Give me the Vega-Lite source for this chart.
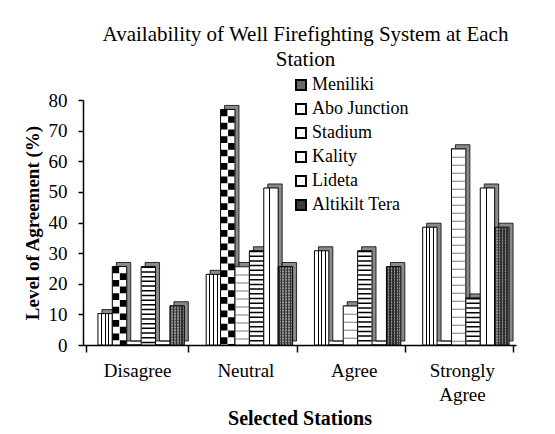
{
  "$schema": "https://vega.github.io/schema/vega-lite/v6.json",
  "width": 433,
  "height": 245,
  "autosize": {"type": "none"},
  "padding": {"left": 83, "top": 100, "right": 39, "bottom": 89},
  "background": "white",
  "config": {"view": {"stroke": null}, "font": "Liberation Serif"},
  "title": {
    "text": ["Availability of Well Firefighting System at Each", "Station"],
    "font": "Liberation Serif",
    "fontSize": 21,
    "fontWeight": "normal",
    "color": "black",
    "anchor": "middle",
    "frame": "group",
    "lineHeight": 25,
    "offset": 6,
    "dx": 6
  },
  "data": {
    "values": [
      {"category": "Disagree", "station": "Meniliki", "value": 10.26},
      {"category": "Disagree", "station": "Abo Junction", "value": 25.64},
      {"category": "Disagree", "station": "Stadium", "value": 0},
      {"category": "Disagree", "station": "Kality", "value": 25.64},
      {"category": "Disagree", "station": "Lideta", "value": 0},
      {"category": "Disagree", "station": "Altikilt Tera", "value": 12.82},
      {"category": "Neutral", "station": "Meniliki", "value": 23.08},
      {"category": "Neutral", "station": "Abo Junction", "value": 76.92},
      {"category": "Neutral", "station": "Stadium", "value": 25.64},
      {"category": "Neutral", "station": "Kality", "value": 30.77},
      {"category": "Neutral", "station": "Lideta", "value": 51.28},
      {"category": "Neutral", "station": "Altikilt Tera", "value": 25.64},
      {"category": "Agree", "station": "Meniliki", "value": 30.77},
      {"category": "Agree", "station": "Abo Junction", "value": 0},
      {"category": "Agree", "station": "Stadium", "value": 12.82},
      {"category": "Agree", "station": "Kality", "value": 30.77},
      {"category": "Agree", "station": "Lideta", "value": 0},
      {"category": "Agree", "station": "Altikilt Tera", "value": 25.64},
      {"category": "Strongly Agree", "station": "Meniliki", "value": 38.46},
      {"category": "Strongly Agree", "station": "Abo Junction", "value": 0},
      {"category": "Strongly Agree", "station": "Stadium", "value": 64.1},
      {"category": "Strongly Agree", "station": "Kality", "value": 15.38},
      {"category": "Strongly Agree", "station": "Lideta", "value": 51.28},
      {"category": "Strongly Agree", "station": "Altikilt Tera", "value": 38.46}
    ]
  },
  "resolve": {"scale": {"xOffset": "independent"}},
  "encoding": {
    "x": {
      "field": "category",
      "type": "nominal",
      "sort": ["Disagree", "Neutral", "Agree", "Strongly Agree"],
      "scale": {"paddingInner": 0.054, "paddingOuter": 0.027},
      "axis": {
        "title": "Selected Stations",
        "titleFont": "Liberation Serif",
        "titleFontSize": 20,
        "titleFontWeight": "bold",
        "titleColor": "black",
        "titlePadding": 4,
        "labelFont": "Liberation Serif",
        "labelFontSize": 19,
        "labelColor": "black",
        "labelAngle": 0,
        "labelPadding": 9,
        "labelLineHeight": 24,
        "labelExpr": "datum.label == 'Strongly Agree' ? ['Strongly', 'Agree'] : datum.label",
        "tickBand": "extent",
        "tickSize": 7,
        "tickColor": "black",
        "tickWidth": 1.5,
        "domainColor": "black",
        "domainWidth": 1.5
      }
    },
    "y": {
      "field": "value",
      "type": "quantitative",
      "scale": {"domain": [0, 80]},
      "axis": {
        "title": "Level of Agreement (%)",
        "titleFont": "Liberation Serif",
        "titleFontSize": 19,
        "titleFontWeight": "bold",
        "titleColor": "black",
        "titlePadding": 6,
        "values": [0, 10, 20, 30, 40, 50, 60, 70, 80],
        "labelFont": "Liberation Serif",
        "labelFontSize": 19,
        "labelColor": "black",
        "labelPadding": 11,
        "tickSize": 5,
        "tickColor": "black",
        "tickWidth": 1.5,
        "domainColor": "black",
        "domainWidth": 1.5,
        "grid": false
      }
    }
  },
  "layer": [
    {
      "mark": {"type": "bar", "fill": "#8a8a8a", "stroke": "black", "strokeWidth": 0.8, "yOffset": -4},
      "encoding": {
        "xOffset": {
          "field": "station", "type": "nominal",
          "scale": {"domain": ["Meniliki", "Abo Junction", "Stadium", "Kality", "Lideta", "Altikilt Tera"], "paddingInner": 0, "paddingOuter": 0.5556, "align": 1}
        }
      }
    },
    {
      "mark": {"type": "bar", "stroke": "black", "strokeWidth": 1},
      "encoding": {
        "xOffset": {
          "field": "station", "type": "nominal",
          "scale": {"domain": ["Meniliki", "Abo Junction", "Stadium", "Kality", "Lideta", "Altikilt Tera"], "paddingInner": 0, "paddingOuter": 0.5556, "align": 0.75}
        },
        "fill": {
          "field": "station",
          "type": "nominal",
          "scale": {
            "domain": ["Meniliki", "Abo Junction", "Stadium", "Kality", "Lideta", "Altikilt Tera"],
            "range": ["#6a6a6a", "#ffffff", "#ffffff", "#ffffff", "#ffffff", "#3a3a3a"]
          },
          "legend": {
            "orient": "none",
            "legendX": 209,
            "legendY": -24,
            "title": null,
            "symbolType": "square",
            "symbolSize": 100,
            "symbolStrokeColor": "black",
            "symbolStrokeWidth": 2,
            "labelFont": "Liberation Serif",
            "labelFontSize": 18,
            "labelColor": "black",
            "labelOffset": 2,
            "rowPadding": 6,
            "labelLimit": 300
          },
          "condition": [
            {
              "test": "datum.station === 'Meniliki'",
              "value": {
                "gradient": "linear", "x1": 0, "y1": 0, "x2": 1, "y2": 0,
                "stops": [
                  {"offset": 0, "color": "white"}, {"offset": 0.22, "color": "white"},
                  {"offset": 0.22, "color": "black"}, {"offset": 0.29, "color": "black"},
                  {"offset": 0.29, "color": "white"}, {"offset": 0.47, "color": "white"},
                  {"offset": 0.47, "color": "black"}, {"offset": 0.54, "color": "black"},
                  {"offset": 0.54, "color": "white"}, {"offset": 0.72, "color": "white"},
                  {"offset": 0.72, "color": "black"}, {"offset": 0.79, "color": "black"},
                  {"offset": 0.79, "color": "white"}, {"offset": 1, "color": "white"}
                ]
              }
            },
            {
              "test": "datum.station === 'Lideta'",
              "value": {
                "gradient": "linear", "x1": 0, "y1": 0, "x2": 1, "y2": 0,
                "stops": [
                  {"offset": 0, "color": "white"}, {"offset": 0.38, "color": "white"},
                  {"offset": 0.38, "color": "black"}, {"offset": 0.45, "color": "black"},
                  {"offset": 0.45, "color": "white"}, {"offset": 1, "color": "white"}
                ]
              }
            },
            {
              "test": "datum.station === 'Altikilt Tera'",
              "value": {
                "gradient": "linear", "x1": 0, "y1": 0, "x2": 1, "y2": 0,
                "stops": [
                  {"offset": 0, "color": "#303030"}, {"offset": 0.1, "color": "#303030"},
                  {"offset": 0.1, "color": "#9a9a9a"}, {"offset": 0.2, "color": "#9a9a9a"},
                  {"offset": 0.2, "color": "#303030"}, {"offset": 0.3, "color": "#303030"},
                  {"offset": 0.3, "color": "#9a9a9a"}, {"offset": 0.4, "color": "#9a9a9a"},
                  {"offset": 0.4, "color": "#303030"}, {"offset": 0.5, "color": "#303030"},
                  {"offset": 0.5, "color": "#9a9a9a"}, {"offset": 0.6, "color": "#9a9a9a"},
                  {"offset": 0.6, "color": "#303030"}, {"offset": 0.7, "color": "#303030"},
                  {"offset": 0.7, "color": "#9a9a9a"}, {"offset": 0.8, "color": "#9a9a9a"},
                  {"offset": 0.8, "color": "#303030"}, {"offset": 0.9, "color": "#303030"},
                  {"offset": 0.9, "color": "#9a9a9a"}, {"offset": 1, "color": "#9a9a9a"}
                ]
              }
            }
          ]
        }
      }
    },
    {
      "transform": [{"filter": "datum.station === 'Kality' && datum.value > 0"}],
      "mark": {"type": "rule", "stroke": "black", "strokeWidth": 13.4, "strokeDash": [1.5, 3.2], "strokeCap": "butt"},
      "encoding": {
        "xOffset": {
          "field": "station", "type": "nominal",
          "scale": {"domain": ["Meniliki", "Abo Junction", "Stadium", "Kality", "Lideta", "Altikilt Tera"], "paddingInner": 0, "paddingOuter": 0.5556, "align": 0.75}
        },
        "y2": {"datum": 0}
      }
    },
    {
      "transform": [{"filter": "datum.station === 'Stadium' && datum.value > 0"}],
      "mark": {"type": "rule", "stroke": "#7a7a7a", "strokeWidth": 13.4, "strokeDash": [1, 7], "strokeCap": "butt"},
      "encoding": {
        "xOffset": {
          "field": "station", "type": "nominal",
          "scale": {"domain": ["Meniliki", "Abo Junction", "Stadium", "Kality", "Lideta", "Altikilt Tera"], "paddingInner": 0, "paddingOuter": 0.5556, "align": 0.75}
        },
        "y2": {"datum": 0}
      }
    },
    {
      "transform": [{"filter": "datum.station === 'Altikilt Tera' && datum.value > 0"}],
      "mark": {"type": "rule", "stroke": "#303030", "strokeOpacity": 0.6, "strokeWidth": 13.4, "strokeDash": [1.4, 1.4], "strokeCap": "butt"},
      "encoding": {
        "xOffset": {
          "field": "station", "type": "nominal",
          "scale": {"domain": ["Meniliki", "Abo Junction", "Stadium", "Kality", "Lideta", "Altikilt Tera"], "paddingInner": 0, "paddingOuter": 0.5556, "align": 0.75}
        },
        "y2": {"datum": 0}
      }
    },
    {
      "transform": [{"filter": "datum.station === 'Abo Junction' && datum.value > 0"}],
      "mark": {"type": "rule", "stroke": "black", "strokeWidth": 6.5, "strokeDash": [6.7, 6.7], "strokeCap": "butt"},
      "encoding": {
        "xOffset": {
          "field": "station", "type": "nominal",
          "scale": {"domain": ["Meniliki", "Abo Junction", "Stadium", "Kality", "Lideta", "Altikilt Tera"], "paddingInner": 0, "paddingOuter": 0.5556, "align": 0.525}
        },
        "y2": {"datum": 0}
      }
    },
    {
      "transform": [{"filter": "datum.station === 'Abo Junction' && datum.value > 0"}],
      "mark": {"type": "rule", "stroke": "black", "strokeWidth": 6.5, "strokeDash": [6.7, 6.7], "strokeDashOffset": 6.7, "strokeCap": "butt"},
      "encoding": {
        "xOffset": {
          "field": "station", "type": "nominal",
          "scale": {"domain": ["Meniliki", "Abo Junction", "Stadium", "Kality", "Lideta", "Altikilt Tera"], "paddingInner": 0, "paddingOuter": 0.5556, "align": 0.975}
        },
        "y2": {"datum": 0}
      }
    }
  ]
}
